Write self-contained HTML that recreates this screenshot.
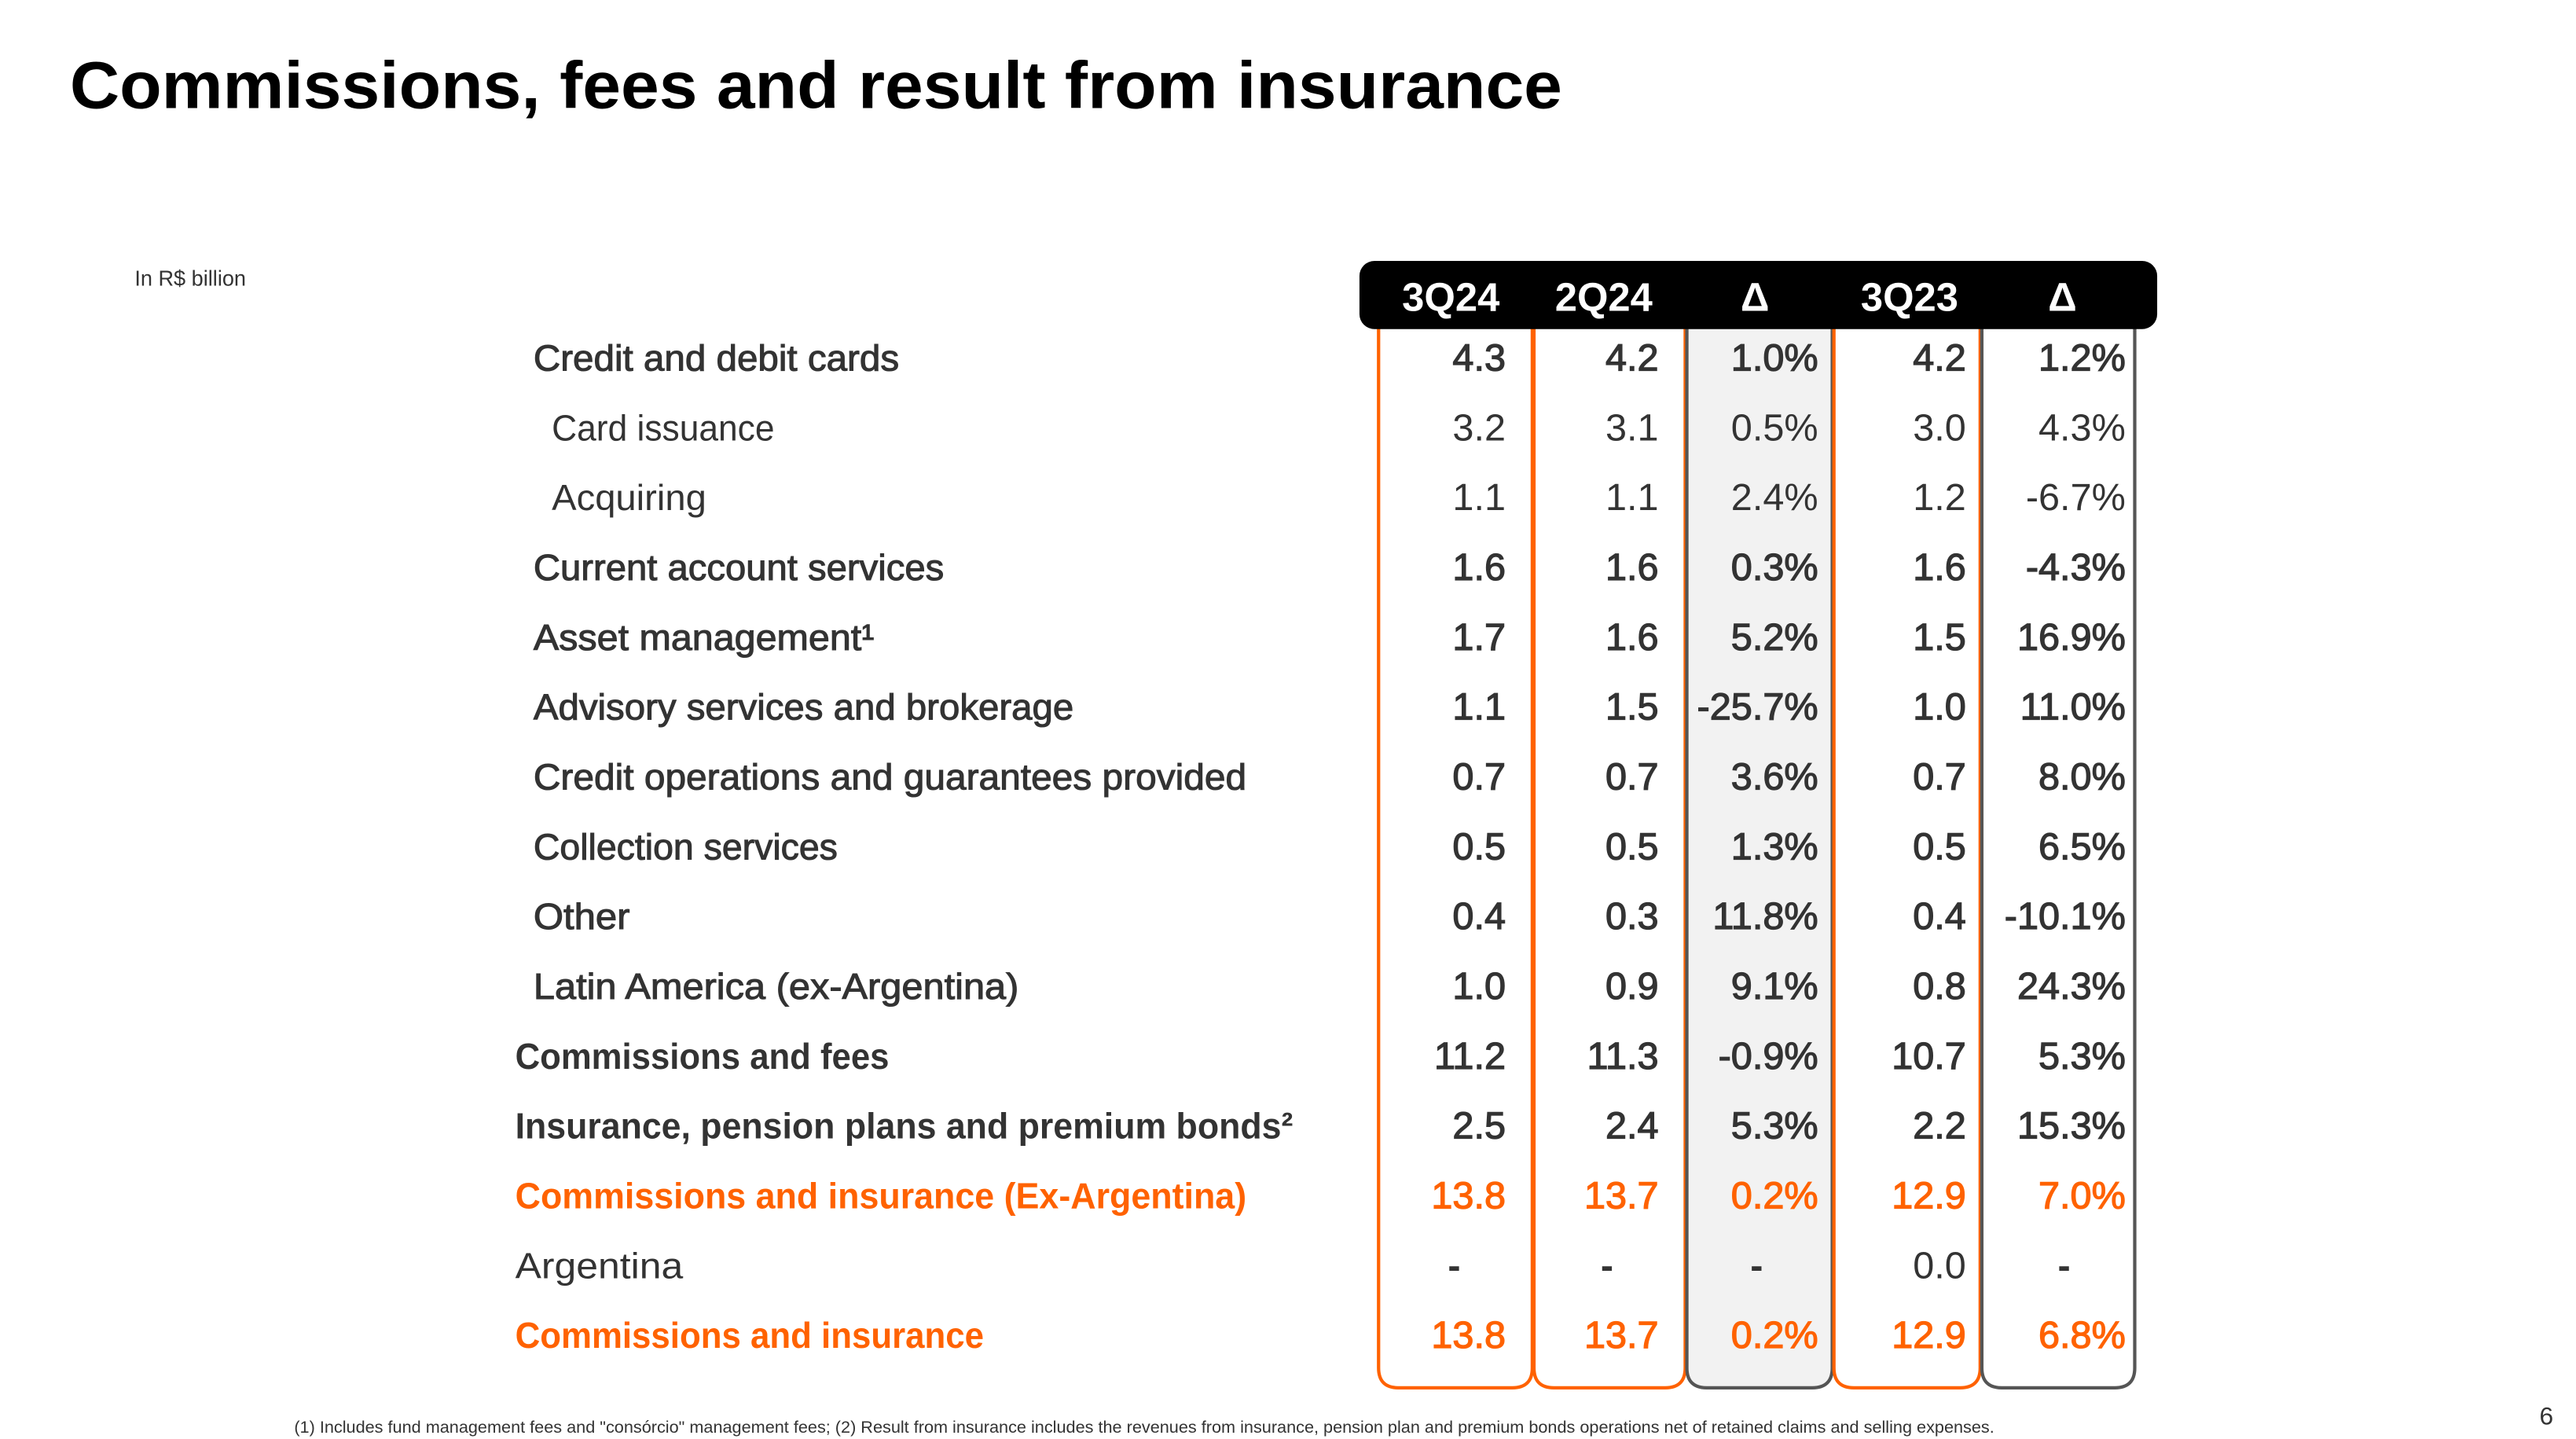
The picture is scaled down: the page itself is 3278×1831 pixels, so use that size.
<!DOCTYPE html>
<html><head><meta charset="utf-8"><style>
html,body{margin:0;padding:0;background:#fff;}
svg{display:block;}
</style></head>
<body>
<svg id="s" width="3278" height="1831" viewBox="0 0 1550 865.8" xmlns="http://www.w3.org/2000/svg" font-family="Liberation Sans, sans-serif">
<text x="42" y="65" font-size="40" font-weight="bold" fill="#000" textLength="898" lengthAdjust="spacingAndGlyphs">Commissions, fees and result from insurance</text>
<text x="81" y="172" font-size="13" fill="#333" textLength="67" lengthAdjust="spacingAndGlyphs">In R$ billion</text>
<g id="boxes"></g>
<rect x="818" y="157" width="480" height="41" rx="9" fill="#000"/>
<g id="hdr"></g>
<g id="rows"></g>
<text x="177" y="862" font-size="10" fill="#333" textLength="1023" lengthAdjust="spacingAndGlyphs">(1) Includes fund management fees and "consórcio" management fees; (2) Result from insurance includes the revenues from insurance, pension plan and premium bonds operations net of retained claims and selling expenses.</text>
<text x="1528" y="857" font-size="15" fill="#333">6</text>
</svg>
<script>
const headers = ["3Q24","2Q24","Δ","3Q23","Δ"];
const labels = ["Credit and debit cards","Card issuance","Acquiring","Current account services","Asset management¹","Advisory services and brokerage","Credit operations and guarantees provided","Collection services","Other","Latin America (ex-Argentina)","Commissions and fees","Insurance, pension plans and premium bonds²","Commissions and insurance (Ex-Argentina)","Argentina","Commissions and insurance"];
const col3Q24 = ["4.3","3.2","1.1","1.6","1.7","1.1","0.7","0.5","0.4","1.0","11.2","2.5","13.8","-","13.8"];
const col2Q24 = ["4.2","3.1","1.1","1.6","1.6","1.5","0.7","0.5","0.3","0.9","11.3","2.4","13.7","-","13.7"];
const colDeltaQ = ["1.0%","0.5%","2.4%","0.3%","5.2%","-25.7%","3.6%","1.3%","11.8%","9.1%","-0.9%","5.3%","0.2%","-","0.2%"];
const col3Q23 = ["4.2","3.0","1.2","1.6","1.5","1.0","0.7","0.5","0.4","0.8","10.7","2.2","12.9","0.0","12.9"];
const colDeltaY = ["1.2%","4.3%","-6.7%","-4.3%","16.9%","11.0%","8.0%","6.5%","-10.1%","24.3%","5.3%","15.3%","7.0%","-","6.8%"];
const labelWidths = [220,134,93,247,205,325,429,183,58,292,225,468,440,101,282];

const NS="http://www.w3.org/2000/svg";
function mk(tag,attrs,parent){const e=document.createElementNS(NS,tag);for(const k in attrs)e.setAttribute(k,attrs[k]);parent.appendChild(e);return e;}
const colEdges=[829,922.5,1014.5,1103,1192,1285];
const colRight=[906,998,1094,1183,1279];
const colStroke=["#ff6200","#ff6200","#555","#ff6200","#555"];
const colFill=["#fff","#fff","#f2f2f2","#fff","#fff"];
const boxes=document.getElementById('boxes');
for(let i=0;i<5;i++){
  const x0=colEdges[i]+0.5,x1=colEdges[i+1]-0.5,t=190,b=835,r=12;
  const p=mk('path',{d:`M${x0},${t} L${x0},${b-r} Q${x0},${b} ${x0+r},${b} L${x1-r},${b} Q${x1},${b} ${x1},${b-r} L${x1},${t}`,fill:colFill[i],stroke:colStroke[i],'stroke-width':2},boxes);
  
  
}
const hdr=document.getElementById('hdr');
const hdrCenters=[873,965,1056,1149,1241];
headers.forEach((h,i)=>{
  const t=mk('text',{x:hdrCenters[i],y:187,'font-size':24,'font-weight':'bold',fill:'#fff','text-anchor':'middle'},hdr);
  t.textContent=h;
  
  
});
const rows=document.getElementById('rows');
const cols=[col3Q24,col2Q24,colDeltaQ,col3Q23,colDeltaY];
const dashCenters=[875,967,1057,1149,1242];
labels.forEach((lab,r)=>{
  const y=215+42*r+8;
  const sub=(r===1||r===2);
  const total=r>=10;
  const orange=(r===12||r===14);
  const plain=sub||r===13;
  const x=sub?332:(total?310:321);
  const color=orange?'#ff6200':'#333';
  const t=mk('text',{x:x,y:y,'font-size':22,fill:color,textLength:labelWidths[r],lengthAdjust:'spacingAndGlyphs'},rows);
  if(total&&r!==13)t.setAttribute('font-weight','bold');
  else if(!plain){t.setAttribute('stroke',color);t.setAttribute('stroke-width','0.5');}
  t.textContent=lab;
  
  
  cols.forEach((c,ci)=>{
    const v=c[r];
    const isDash=v==='-';
    const vt=mk('text',{x:isDash?dashCenters[ci]:colRight[ci],y:y,'font-size':23,fill:color,'text-anchor':isDash?'middle':'end'},rows);
    if(isDash)vt.setAttribute('font-weight','bold');
    else if(!plain){vt.setAttribute('stroke',color);vt.setAttribute('stroke-width','0.6');}
    vt.textContent=v;
    
    
  });
});
</script>
</body></html>
